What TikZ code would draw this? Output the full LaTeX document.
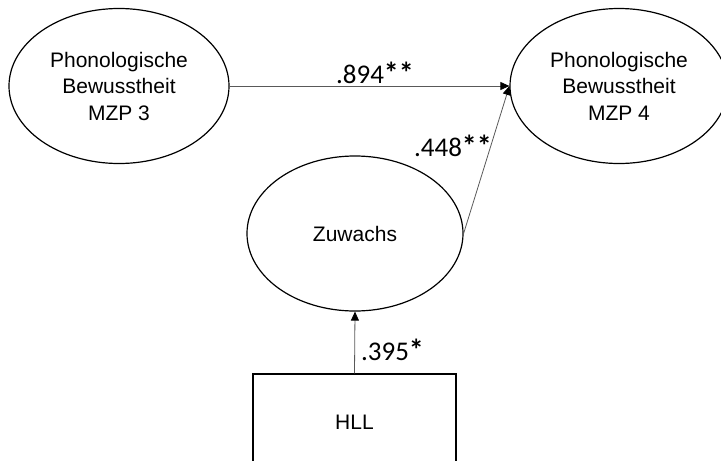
\documentclass[tikz,border=0pt]{standalone}
\usepackage{fontspec}
\setmainfont{Liberation Sans}
\newfontfamily\coeffont{Carlito}
\usetikzlibrary{shapes.geometric,arrows.meta}
% significance star, a little heavier than the plain glyph
\newcommand\sigstar{{\bfseries\fontsize{30}{30}\selectfont *}}

\begin{document}
\begin{tikzpicture}[x=1pt,y=-1pt,
  latent/.style={ellipse,draw=black,line width=1.2pt,inner sep=0pt,align=center,
    font=\fontsize{21}{26.5}\selectfont},
  observed/.style={rectangle,draw=black,line width=1.2pt,inner sep=0pt,
    font=\fontsize{21}{26.5}\selectfont},
  regpath/.style={draw=black!65,line width=0.8pt,
    -{Triangle[length=9pt,width=8pt,color=black,fill=black]}},
  coef/.style={inner sep=0pt,font=\coeffont\fontsize{27}{30}\selectfont}]
\useasboundingbox (0,0) rectangle (721,461);
\clip (0,0) rectangle (721,461);

% latent variables
\node[latent,minimum width=220pt,minimum height=155pt] (pb3) at (119,86)
  {Phonologische\\Bewusstheit\\MZP 3};
\node[latent,minimum width=218pt,minimum height=155pt] (pb4) at (619,86)
  {Phonologische\\Bewusstheit\\MZP 4};
\node[latent,minimum width=216pt,minimum height=155pt] (zw) at (355,233.5)
  {Zuwachs};

% observed predictor
\node[observed,minimum width=203pt,minimum height=96pt] (hll) at (354.5,422) {HLL};

% paths
\draw[regpath] (pb3.east) -- (pb4.west);
\draw[regpath] (zw.east) -- (pb4.west);
\draw[regpath] (hll.north) -- (zw.south);

% path coefficients
\node[coef] (c1) at (375,73) {.894\sigstar\sigstar};
\node[coef] (c2) at (453,146) {.448\sigstar\sigstar};
\node[coef] (c3) at (392.5,350) {.395\sigstar};
\end{tikzpicture}
\end{document}
